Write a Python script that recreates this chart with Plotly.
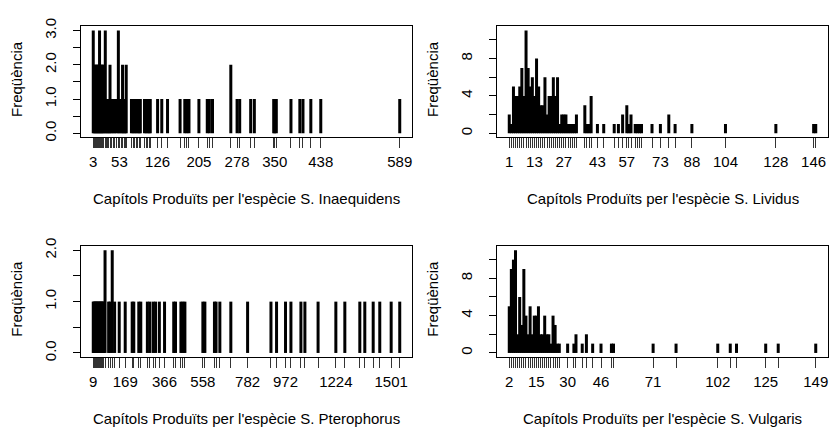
import plotly.graph_objects as go

# ---------------- data ----------------
# Panel 1: S. Inaequidens
inae_values = [3, 5, 7, 9, 11, 13, 15, 17, 19, 21, 23, 26, 28, 31, 33, 35, 38, 41, 44, 47, 51, 53,
               57, 59, 62, 64, 66, 76, 79, 82, 85, 88, 91, 93, 101, 104, 107, 110, 112,
               126, 134, 145, 169, 178, 182, 186, 205, 221, 225, 231, 266, 278, 283, 304, 311,
               348, 350, 353, 381, 398, 404, 419, 438, 589]
inae_counts = [3, 2, 2, 2, 2, 2, 3, 2, 2, 2, 2, 3, 1, 1, 1, 2, 1, 1, 1, 1, 3, 1,
               1, 2, 1, 1, 2, 1, 1, 1, 1, 1, 1, 1, 1, 1, 1, 1, 1,
               1, 1, 1, 1, 1, 1, 1, 1, 1, 1, 1, 2, 1, 1, 1, 1,
               1, 1, 1, 1, 1, 1, 1, 1, 1]
inae_labels = [3, 53, 126, 205, 278, 350, 438, 589]

# Panel 2: S. Lividus
liv_values = list(range(1, 34)) + [37, 38, 39, 40, 43, 46, 51, 53, 55, 57, 58, 59, 61, 62, 63, 64, 69, 73, 77, 80, 88,
                                   104, 128, 146, 147]
liv_counts = [2, 1, 5, 4, 4, 5, 7, 4, 11, 7, 5, 6, 4, 8, 5, 3, 3, 6, 2, 4, 4, 6, 4, 6, 1, 2, 2, 2, 1, 1, 1, 1, 2,
              3, 1, 1, 4, 1, 1, 1, 1, 2, 3, 1, 2, 1, 1, 1, 1, 1, 1, 2, 1, 1, 1, 1, 1, 1]
liv_labels = [1, 13, 27, 43, 57, 73, 88, 104, 128, 146]

# Panel 3: S. Pterophorus
pter_values = [9, 13, 17, 21, 25, 29, 33, 37, 41, 45, 49, 53, 57, 61, 68, 86, 93, 104, 116, 139, 169, 204, 212,
               237, 247, 280, 292, 309, 321, 340, 366, 412, 421, 448, 458, 468, 558, 568,
               616, 624, 643, 698, 782, 899, 927, 972, 999, 1049, 1069, 1135, 1224, 1269, 1344, 1369, 1411,
               1444, 1501, 1544]
pter_counts = [1, 1, 1, 1, 1, 1, 1, 1, 1, 1, 1, 1, 1, 1, 2, 1, 1, 2, 1, 1, 1, 1, 1,
               1, 1, 1, 1, 1, 1, 1, 1, 1, 1, 1, 1, 1, 1, 1,
               1, 1, 1, 1, 1, 1, 1, 1, 1, 1, 1, 1, 1, 1, 1, 1, 1,
               1, 1, 1]
pter_labels = [9, 169, 366, 558, 782, 972, 1224, 1501]

# Panel 4: S. Vulgaris
vul_values = list(range(2, 27)) + [30, 33, 34, 37, 39, 42, 46, 51, 52, 71, 82, 102, 108, 111, 125, 131, 149]
vul_counts = [5, 9, 10, 11, 2, 6, 3, 9, 4, 2, 5, 2, 4, 4, 5, 2, 2, 4, 2, 2, 1, 4, 3, 1, 1,
              1, 1, 2, 1, 2, 1, 1, 1, 1, 1, 1, 1, 1, 1, 1, 1, 1]
vul_labels = [2, 15, 30, 46, 71, 102, 125, 149]

y_ticks_a = [0, 0.5, 1.0, 1.5, 2.0, 2.5, 3.0]
y_text_a = ["0.0", "", "1.0", "", "2.0", "", "3.0"]
y_ticks_b = [0, 2, 4, 6, 8, 10]
y_text_b = ["0", "", "4", "", "8", ""]
y_ticks_c = [0, 0.5, 1.0, 1.5, 2.0]
y_text_c = ["0.0", "", "1.0", "", "2.0"]

titles = ["Capítols Produïts per l'espècie S. Inaequidens",
          "Capítols Produïts per l'espècie S. Lividus",
          "Capítols Produïts per l'espècie S. Pterophorus",
          "Capítols Produïts per l'espècie S. Vulgaris"]
ytitle = "Freqüència"

# ---------------- layout ----------------
W, H = 830, 433
FONT = "Liberation Sans, Arial, sans-serif"
FS = 15

panels = [
    dict(vals=inae_values, cnts=inae_counts, labs=inae_labels, yt=y_ticks_a, ytt=y_text_a, box=(81, 412, 19, 133)),
    dict(vals=liv_values, cnts=liv_counts, labs=liv_labels, yt=y_ticks_b, ytt=y_text_b, box=(497, 828, 19, 133)),
    dict(vals=pter_values, cnts=pter_counts, labs=pter_labels, yt=y_ticks_c, ytt=y_text_c, box=(81, 412, 245, 359)),
    dict(vals=vul_values, cnts=vul_counts, labs=vul_labels, yt=y_ticks_b, ytt=y_text_b, box=(497, 828, 245, 359)),
]

fig = go.Figure()
annotations = []
for i, p in enumerate(panels):
    n = "" if i == 0 else str(i + 1)
    xs, ys = [], []
    for v, c in zip(p["vals"], p["cnts"]):
        xs += [v, v, None]
        ys += [0, c, None]
    fig.add_trace(go.Scatter(x=xs, y=ys, mode="lines", line=dict(color="black", width=3),
                             xaxis="x" + n, yaxis="y" + n, showlegend=False, hoverinfo="skip"))
    x0, x1 = min(p["vals"]), max(p["vals"])
    dx = 0.04 * (x1 - x0)
    ymax = max(p["cnts"])
    dy = 0.04 * ymax
    l, r, t, b = p["box"]
    tt = [str(v) if v in p["labs"] else "" for v in p["vals"]]
    fig.layout["xaxis" + n] = dict(
        domain=[l / W, r / W], anchor="y" + n, range=[x0 - dx, x1 + dx],
        tickmode="array", tickvals=p["vals"], ticktext=tt, ticks="outside", ticklen=10, tickwidth=1,
        tickcolor="#333", showline=True, mirror=True, linecolor="black", linewidth=1,
        showgrid=False, zeroline=False, tickfont=dict(family=FONT, size=FS, color="black"),
        tickangle=0, ticklabelstandoff=1)
    fig.layout["yaxis" + n] = dict(
        domain=[1 - b / H, 1 - t / H], anchor="x" + n, range=[-dy, ymax + dy],
        tickmode="array", tickvals=p["yt"], ticktext=p["ytt"], ticks="outside", ticklen=7, tickwidth=1,
        tickcolor="black", showline=True, mirror=True, linecolor="black", linewidth=1,
        showgrid=False, zeroline=False, tickangle=-90, tickfont=dict(family=FONT, size=FS, color="black"),
        ticklabelstandoff=11)
    annotations.append(dict(text=titles[i], xref="paper", yref="paper", x=(l + r) / 2 / W, y=1 - (b + 63) / H,
                            xanchor="center", yanchor="middle", showarrow=False,
                            font=dict(family=FONT, size=FS, color="black")))
    annotations.append(dict(text=ytitle, xref="paper", yref="paper", x=(l - 64) / W, y=1 - ((t + b) / 2 - 3) / H,
                            xanchor="center", yanchor="middle", showarrow=False, textangle=-90,
                            font=dict(family=FONT, size=FS, color="black")))

fig.update_layout(width=W, height=H, margin=dict(l=0, r=0, t=0, b=0), paper_bgcolor="white",
                  plot_bgcolor="white", annotations=annotations, showlegend=False)
fig.write_html("out.html")
